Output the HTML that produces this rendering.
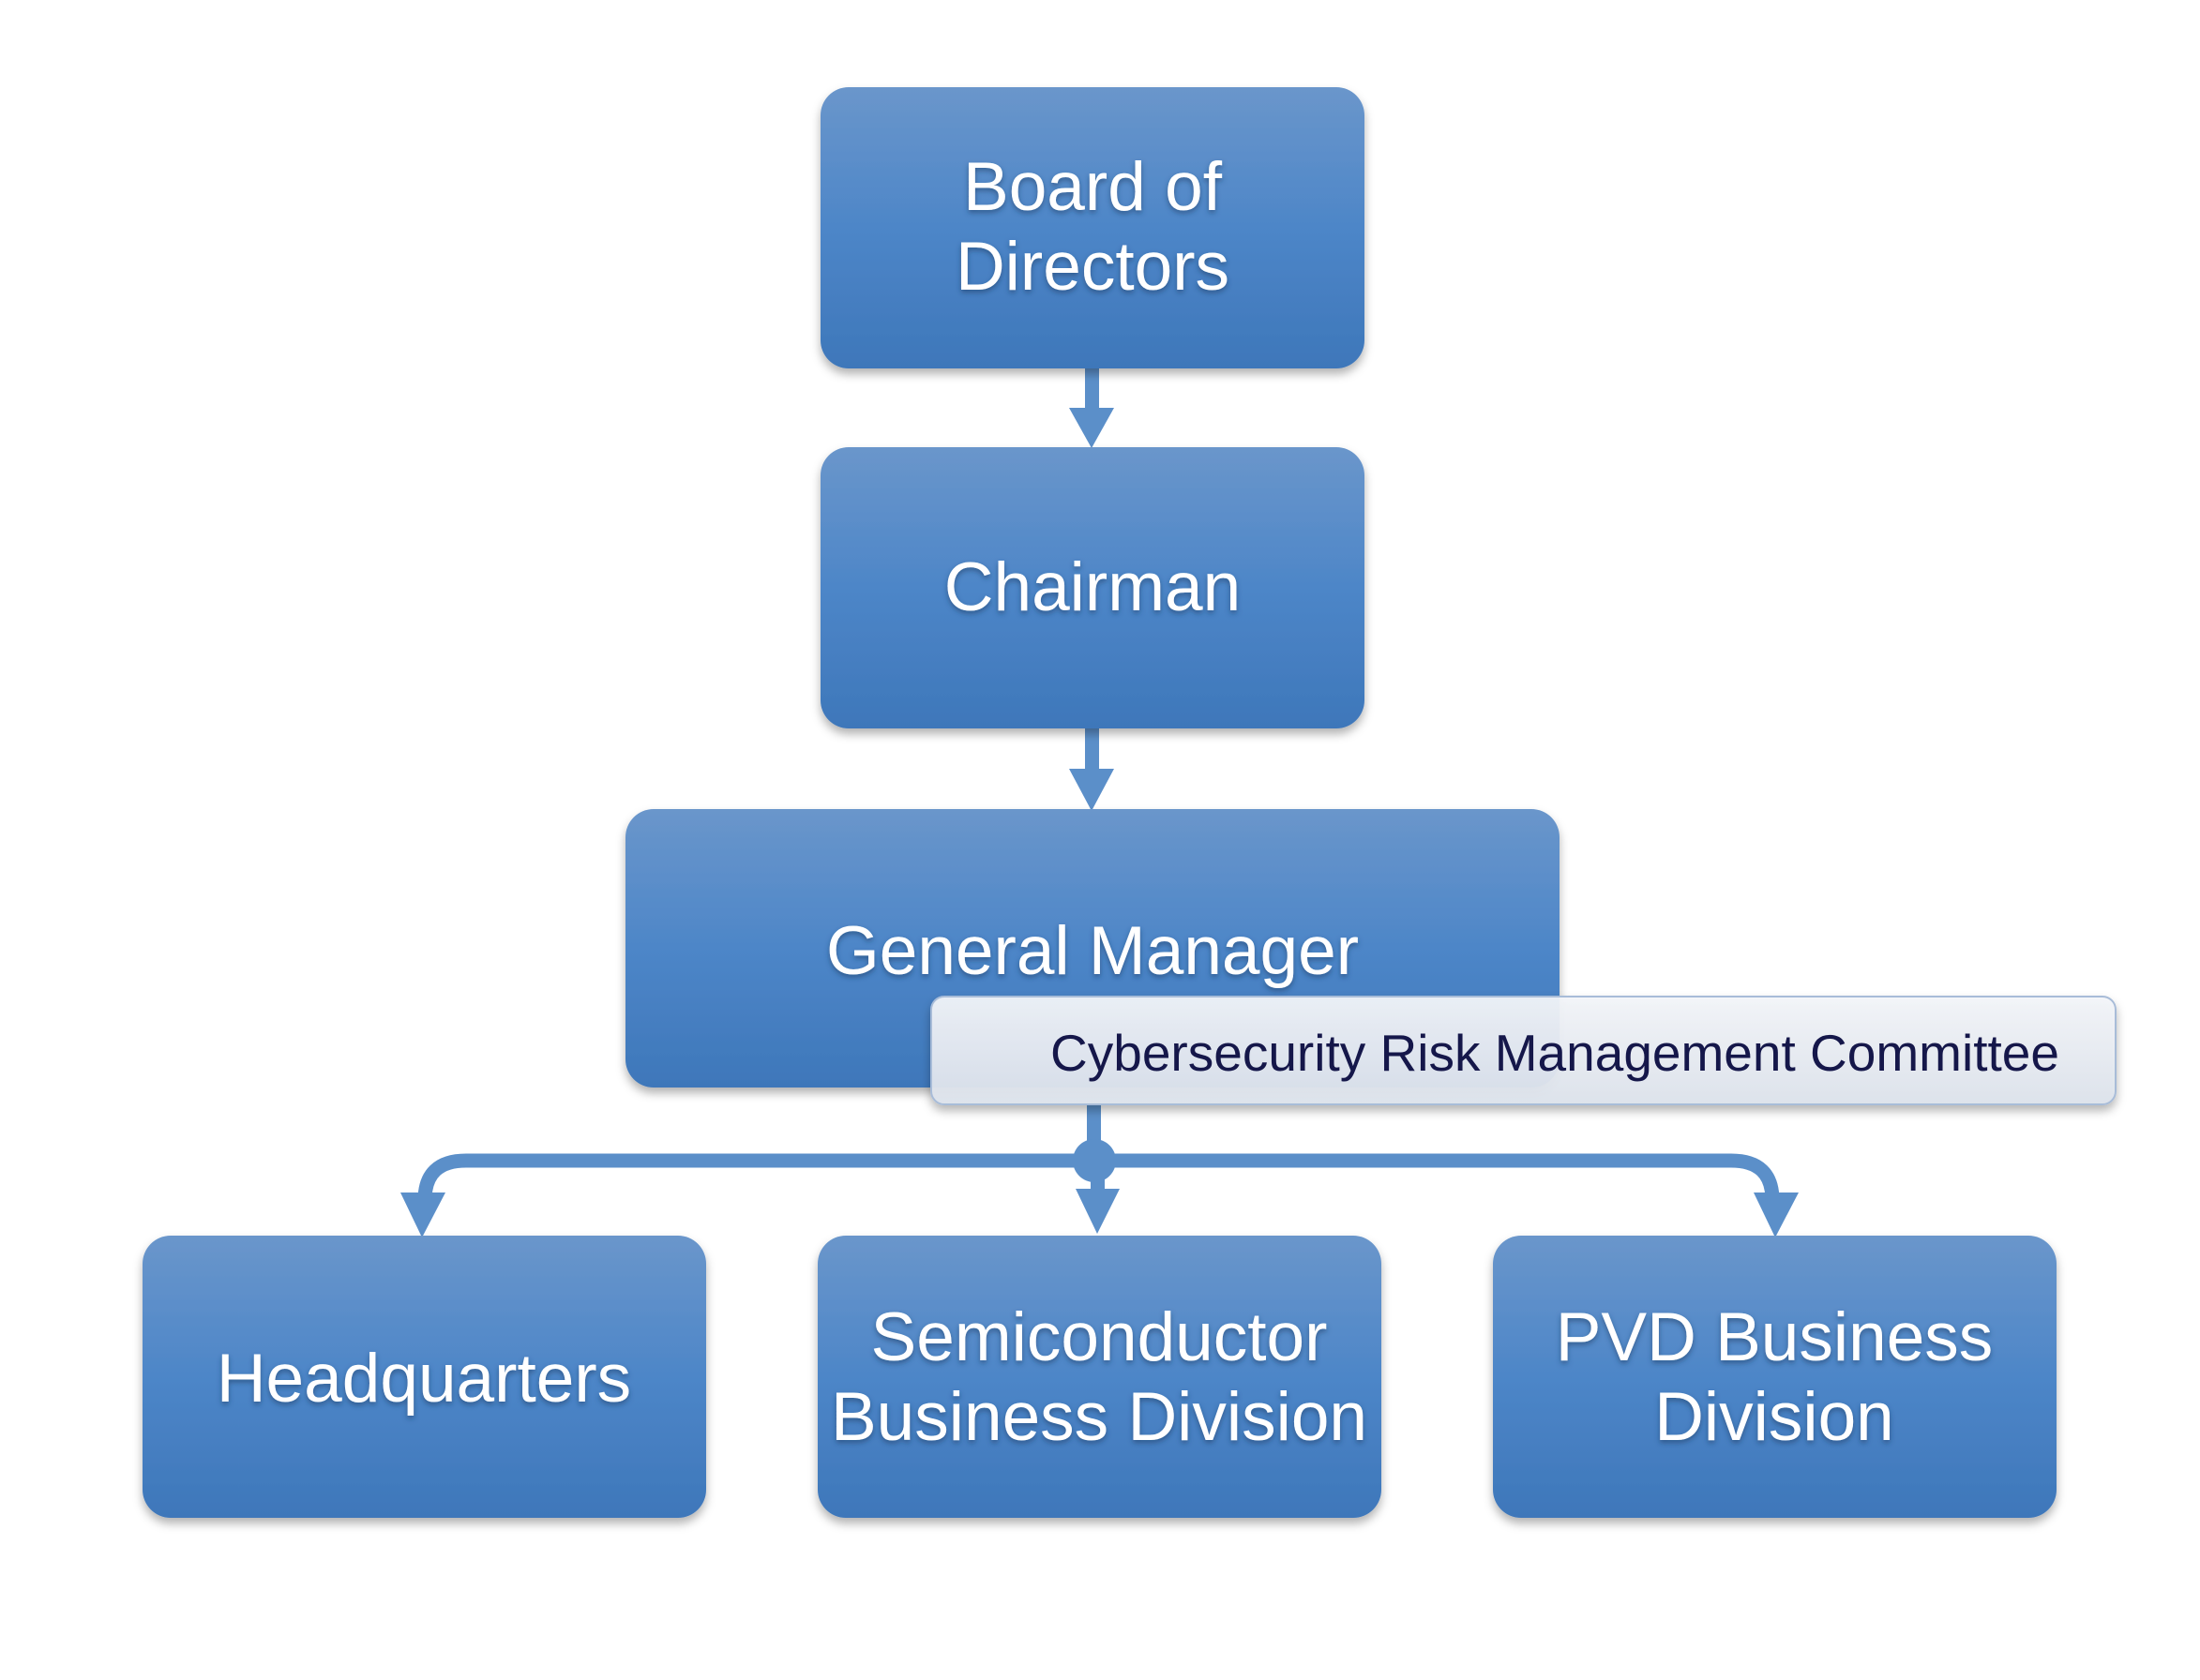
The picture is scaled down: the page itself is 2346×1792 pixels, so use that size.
<!DOCTYPE html>
<html><head><meta charset="utf-8"><style>
html,body{margin:0;padding:0;background:#fff;}
svg{display:block;}
</style></head><body>
<svg width="2346" height="1792" viewBox="0 0 2346 1792" xmlns="http://www.w3.org/2000/svg">
<defs>
<linearGradient id="bg" x1="0" y1="0" x2="0" y2="1">
<stop offset="0" stop-color="#6a96cb"/><stop offset="0.5" stop-color="#4d86c8"/><stop offset="1" stop-color="#3e77ba"/>
</linearGradient>
<linearGradient id="cg" x1="0" y1="0" x2="0" y2="1">
<stop offset="0" stop-color="#f3f5f9"/><stop offset="1" stop-color="#dde3ec"/>
</linearGradient>
<filter id="sh" x="-10%" y="-10%" width="120%" height="130%">
<feDropShadow dx="0" dy="6" stdDeviation="5" flood-color="#000" flood-opacity="0.3"/>
</filter>
<filter id="ts" x="-10%" y="-20%" width="120%" height="150%">
<feDropShadow dx="0" dy="3" stdDeviation="3" flood-color="#1a3a66" flood-opacity="0.6"/>
</filter>
</defs>
<g fill="#5b8fc9">
<rect x="1157" y="393" width="15" height="45"/>
<polygon points="1140,435 1188,435 1164,478"/>
<rect x="1157" y="777" width="15" height="46"/>
<polygon points="1140,820 1188,820 1164,865"/>
<rect x="1159" y="1178" width="15" height="62"/>
<circle cx="1167" cy="1238" r="23"/>
<rect x="1163" y="1240" width="15" height="30"/>
<polygon points="1147,1268 1194,1268 1170,1316"/>
<polygon points="427,1272 475,1272 450,1320"/>
<polygon points="1870,1272 1918,1272 1893,1320"/>
</g>
<path d="M497,1238 H1846 Q1890,1238 1890,1280 M497,1238 Q453,1238 453,1280" stroke="#5b8fc9" stroke-width="15" fill="none"/>

<g filter="url(#sh)">
<rect x="875" y="93" width="580" height="300" rx="30" fill="url(#bg)"/>
<rect x="875" y="477" width="580" height="300" rx="30" fill="url(#bg)"/>
<rect x="667" y="863" width="996" height="297" rx="30" fill="url(#bg)"/>
<rect x="152" y="1318" width="601" height="301" rx="30" fill="url(#bg)"/>
<rect x="872" y="1318" width="601" height="301" rx="30" fill="url(#bg)"/>
<rect x="1592" y="1318" width="601" height="301" rx="30" fill="url(#bg)"/>
</g>
<rect x="993" y="1063" width="1263" height="115" rx="14" fill="url(#cg)" fill-opacity="0.94" stroke="#a8bcd8" stroke-width="2" filter="url(#sh)"/>

<g font-family="Liberation Sans, sans-serif" font-size="73" fill="#fff" text-anchor="middle" filter="url(#ts)">
<text x="1165" y="224">Board of</text>
<text x="1165" y="309">Directors</text>
<text x="1165" y="651">Chairman</text>
<text x="1165" y="1039">General Manager</text>
<text x="452" y="1495">Headquarters</text>
<text x="1172" y="1451">Semiconductor</text>
<text x="1172" y="1536">Business Division</text>
<text x="1892" y="1451">PVD Business</text>
<text x="1892" y="1536">Division</text>
</g>
<text x="1658" y="1142" font-family="Liberation Sans, sans-serif" font-size="55" fill="#15174a" text-anchor="middle">Cybersecurity Risk Management Committee</text>
</svg>
</body></html>
